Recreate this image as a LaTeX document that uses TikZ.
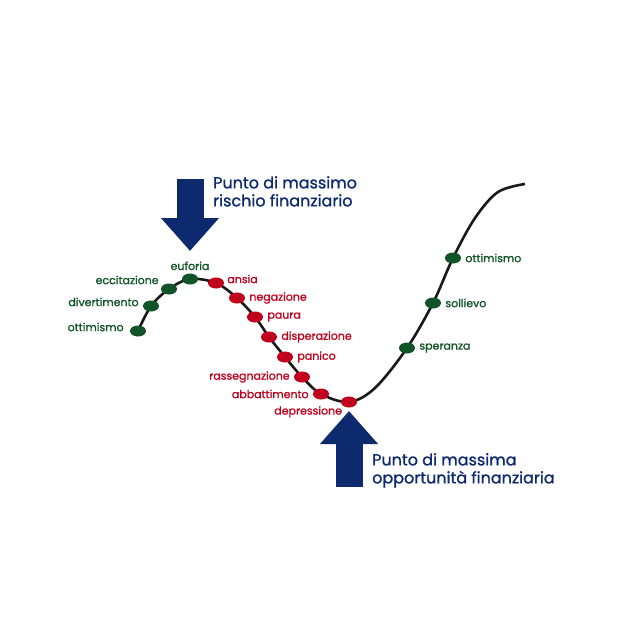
\documentclass[tikz,border=0pt]{standalone}
\usepackage{fontspec}
\setmainfont{Poppins}[FakeBold=1.2]
\usepackage{xcolor}
\usepackage{tikz}
\usetikzlibrary{shapes.geometric, arrows.meta, positioning, backgrounds}

\definecolor{navy}{RGB}{14,42,110}
\definecolor{moodgreen}{RGB}{16,84,40}
\definecolor{moodred}{RGB}{192,0,28}

\begin{document}
\begin{tikzpicture}[
  x=1pt, y=-1pt,
  node distance=3pt,
  gdot/.style={ellipse, fill=moodgreen, minimum width=16pt, minimum height=11pt, inner sep=0pt},
  rdot/.style={ellipse, fill=moodred, minimum width=16pt, minimum height=11pt, inner sep=0pt},
  glabel/.style={text=moodgreen, font=\fontsize{11}{12}\selectfont, inner sep=1pt},
  rlabel/.style={text=moodred, font=\fontsize{11}{12}\selectfont, inner sep=1pt},
  title/.style={text=navy, font=\fontsize{16}{18}\selectfont, align=left, inner sep=0pt},
  bigarrow/.style={navy, line width=27pt, -{Triangle[length=33pt, width=56pt]}},
]
  \useasboundingbox (0,0) rectangle (628,628);

  % dots on the curve
  \node[gdot] (ott1) at (138,331) {};
  \node[gdot] (div)  at (151,306) {};
  \node[gdot] (ecc)  at (169,289) {};
  \node[gdot] (euf)  at (190,279) {};
  \node[rdot] (ans)  at (216,283) {};
  \node[rdot] (neg)  at (237,298) {};
  \node[rdot] (pau)  at (255,317) {};
  \node[rdot] (dis)  at (269,337) {};
  \node[rdot] (pan)  at (285,357) {};
  \node[rdot] (ras)  at (302,377) {};
  \node[rdot] (abb)  at (321,394) {};
  \node[rdot] (dep)  at (349,402) {};
  \node[gdot] (spe)  at (407,348) {};
  \node[gdot] (sol)  at (433,303) {};
  \node[gdot] (ott2) at (453,258) {};
  \coordinate (curveend) at (525,184);

  \begin{scope}[on background layer]
    \draw[line width=2.6pt, black!90] plot[smooth, tension=0.55] coordinates {
      (ott1.center) (div.center) (ecc.center) (euf.center) (ans.center)
      (neg.center) (pau.center) (dis.center) (pan.center) (ras.center)
      (abb.center) (dep.center) (375,388) (spe.center) (sol.center)
      (ott2.center) (475,218) (498,192) (curveend)};
  \end{scope}

  % labels
  \node[glabel, left=5pt of ott1, yshift=4pt] (ott1lbl) {ottimismo};
  \node[glabel, left=3pt of div, yshift=4pt]  (divlbl)  {divertimento};
  \node[glabel, left=1pt of ecc, yshift=9pt]  (ecclbl)  {eccitazione};
  \node[glabel, above=2pt of euf]             (euflbl)  {euforia};
  \node[rlabel, right=2pt of ans, yshift=4pt] (anslbl)  {ansia};
  \node[rlabel, right=3pt of neg]             (neglbl)  {negazione};
  \node[rlabel, right=3pt of pau]             (paulbl)  {paura};
  \node[rlabel, right=3pt of dis]             (dislbl)  {disperazione};
  \node[rlabel, right=3pt of pan]             (panlbl)  {panico};
  \node[rlabel, left=3pt of ras]              (raslbl)  {rassegnazione};
  \node[rlabel, left=3pt of abb]              (abblbl)  {abbattimento};
  \node[rlabel, below left=-1pt and 0pt of dep] (deplbl) {depressione};
  \node[glabel, right=3pt of spe]             (spelbl)  {speranza};
  \node[glabel, right=3pt of sol]             (sollbl)  {sollievo};
  \node[glabel, right=3pt of ott2]            (ott2lbl) {ottimismo};

  % big arrows
  \coordinate (riskstart) at (190,179);
  \coordinate (risktip)   at (190,251);
  \coordinate (oppstart)  at (349,487);
  \coordinate (opptip)    at (349,411);
  \draw[bigarrow] (riskstart) -- (risktip);
  \draw[bigarrow] (oppstart) -- (opptip);

  \node[title, anchor=north west] (risk) at (213,176) {Punto di massimo\\rischio finanziario};
  \node[title, anchor=north west] (opp)  at (372,453) {Punto di massima\\opportunità finanziaria};
\end{tikzpicture}
\end{document}
